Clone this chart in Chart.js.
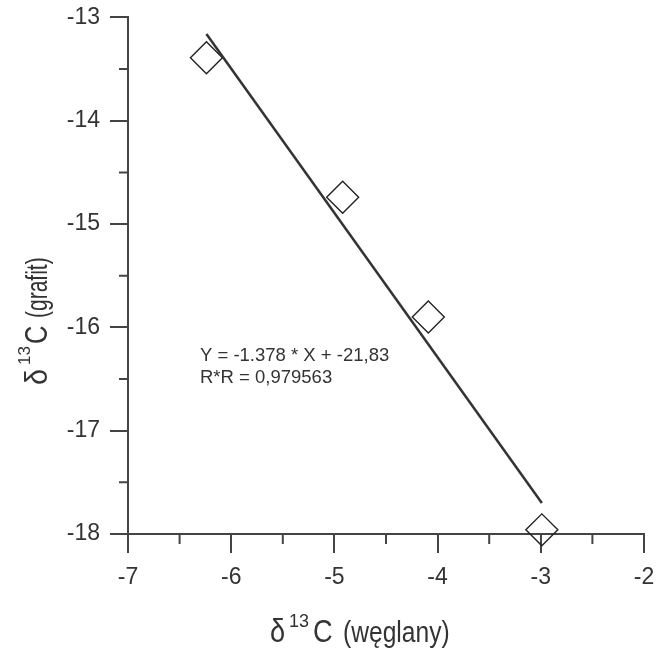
<!DOCTYPE html>
<html>
<head>
<meta charset="utf-8">
<script src="https://cdn.jsdelivr.net/npm/chart.js@4"></script>
<style>
  body { margin: 0; background: #fff; }
  #wrap { width: 671px; height: 650px; }
</style>
</head>
<body>
<div id="wrap"><canvas id="chart"></canvas></div>
<script>
// measured points (delta13C carbonates vs graphite)
const carbX = [-6.24, -4.92, -4.09, -2.99];
const graphY = [-13.39, -14.74, -15.90, -17.96];

// fitted line end points
const fitX = [-6.24, -2.99];
const fitY = [-13.16, -17.70];

const xTicks = [-7, -6, -5, -4, -3, -2];
const yTicks = [-18, -17, -16, -15, -14, -13];

const fitLines = ['Y = -1.378 * X + -21,83', 'R*R = 0,979563'];

const FONT = '"Liberation Sans", Arial, sans-serif';
const INK = '#333';
const AXIS = '#444';

// minor ticks half way between the labelled ones
const minorTicks = {
    id: 'minorTicks',
    afterDraw(chart) {
        const ctx = chart.ctx;
        const xs = chart.scales.x, ys = chart.scales.y;
        const area = chart.chartArea;
        ctx.save();
        ctx.strokeStyle = AXIS;
        ctx.lineWidth = 2;
        ctx.beginPath();
        for (let i = 0; i < xTicks.length - 1; i++) {
            const px = xs.getPixelForValue((xTicks[i] + xTicks[i + 1]) / 2);
            ctx.moveTo(px, area.bottom);
            ctx.lineTo(px, area.bottom + 10);
        }
        for (let i = 0; i < yTicks.length - 1; i++) {
            const py = ys.getPixelForValue((yTicks[i] + yTicks[i + 1]) / 2);
            ctx.moveTo(area.left, py);
            ctx.lineTo(area.left - 9, py);
        }
        ctx.stroke();
        ctx.restore();
    }
};

function piece(ctx, text, x, y, size, sx) {
    ctx.save();
    ctx.translate(x, y);
    ctx.scale(sx || 1, 1);
    ctx.font = size + 'px ' + FONT;
    ctx.fillText(text, 0, 0);
    ctx.restore();
}

// axis titles with superscript and the fit text
const titles = {
    id: 'titles',
    afterDraw(chart) {
        const ctx = chart.ctx;
        ctx.save();
        ctx.fillStyle = INK;
        ctx.textBaseline = 'alphabetic';
        ctx.textAlign = 'left';

        // x title
        piece(ctx, 'δ', 270, 642, 34, 0.8);
        piece(ctx, '13', 289, 627, 18);
        piece(ctx, 'C', 313, 642, 32, 0.85);
        piece(ctx, '(węglany)', 343, 642, 30, 0.82);

        // y title, rotated
        ctx.save();
        ctx.translate(47, 0);
        ctx.rotate(-Math.PI / 2);
        piece(ctx, 'δ', -385, 0, 32, 0.9);
        piece(ctx, '13', -365, -17, 17);
        piece(ctx, 'C', -344, 0, 32, 0.8);
        piece(ctx, '(grafit)', -318, 0, 30, 0.7);
        ctx.restore();

        // regression text
        fitLines.forEach((t, i) => piece(ctx, t, 200, 361 + i * 22, 18.5));
        ctx.restore();
    }
};

const axisBase = {
    type: 'linear',
    grid: { drawOnChartArea: false, color: AXIS, lineWidth: 2 },
    border: { color: AXIS, width: 2 },
    ticks: {
        stepSize: 1,
        color: INK,
        font: { family: FONT, size: 23 }
    }
};

new Chart(document.getElementById('chart').getContext('2d'), {
    type: 'scatter',
    data: {
        datasets: [
            {
                label: 'fit',
                data: fitX.map((x, i) => ({ x, y: fitY[i] })),
                showLine: true,
                borderColor: INK,
                borderWidth: 2.5,
                pointRadius: 0
            },
            {
                label: 'samples',
                data: carbX.map((x, i) => ({ x, y: graphY[i] })),
                pointStyle: 'rectRot',
                pointRadius: 16,
                pointBorderWidth: 1.4,
                borderColor: '#222',
                backgroundColor: 'rgba(255,255,255,0)',
                clip: false
            }
        ]
    },
    options: {
        responsive: true,
        maintainAspectRatio: false,
        animation: false,
        layout: { padding: { top: 17, right: 27, left: 0, bottom: 0 } },
        plugins: {
            legend: { display: false },
            tooltip: { enabled: false }
        },
        scales: {
            x: {
                ...axisBase,
                min: xTicks[0],
                max: xTicks[xTicks.length - 1],
                grid: { ...axisBase.grid, tickLength: 19 },
                ticks: { ...axisBase.ticks, padding: 11 },
                afterFit: s => { s.height = 116; }
            },
            y: {
                ...axisBase,
                min: yTicks[0],
                max: yTicks[yTicks.length - 1],
                grid: { ...axisBase.grid, tickLength: 18 },
                ticks: { ...axisBase.ticks, padding: 10, font: { family: FONT, size: 23, lineHeight: 0.6 } },
                afterFit: s => { s.width = 128; }
            }
        }
    },
    plugins: [minorTicks, titles]
});
</script>
</body>
</html>
